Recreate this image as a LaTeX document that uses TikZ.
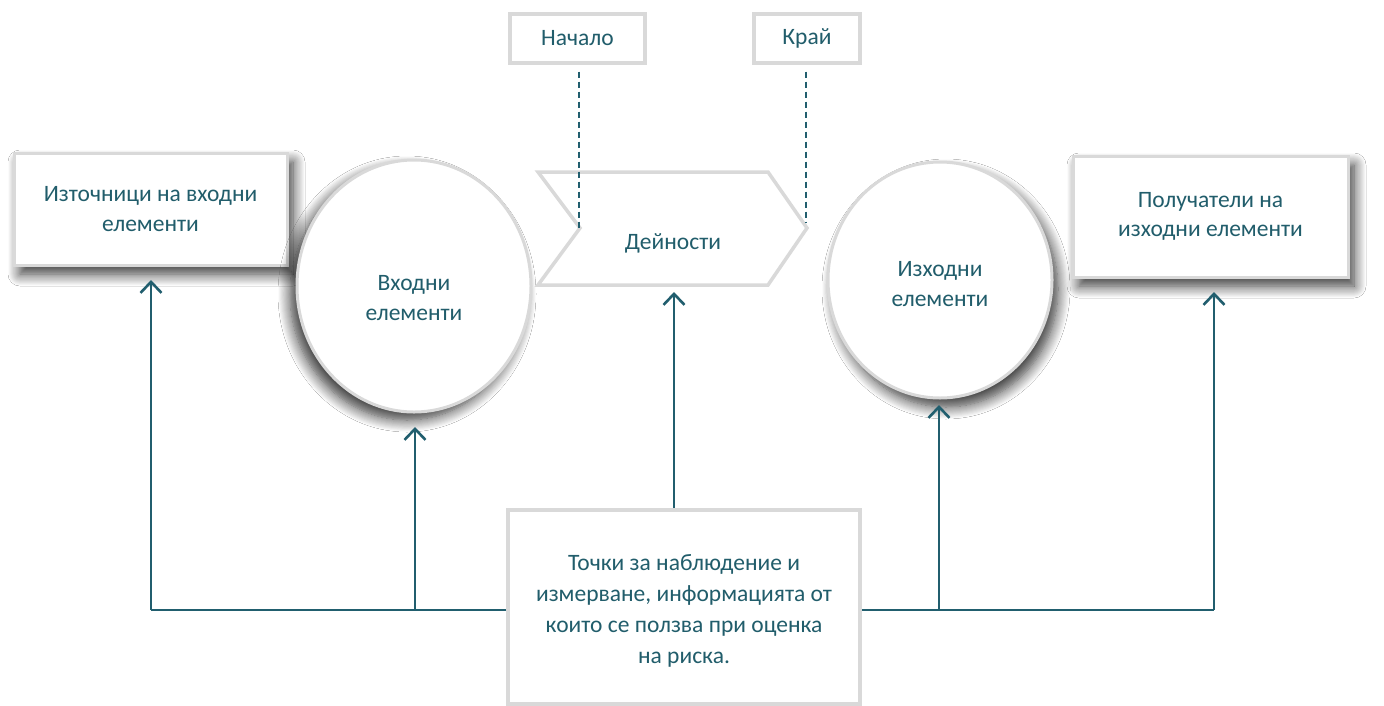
\documentclass[tikz,border=0pt]{standalone}
\usepackage{fontspec}
\setmainfont{Carlito}
\usetikzlibrary{shadows.blur,arrows.meta,calc,shapes.geometric}
\definecolor{txt}{HTML}{215D6B}
\definecolor{ln}{HTML}{215E6E}
\definecolor{bord}{HTML}{D9D9D9}
\begin{document}
\begin{tikzpicture}[x=1pt,y=-1pt,
  font=\fontsize{23.5}{29.5}\selectfont,
  every node/.style={text=txt, align=center},
  box/.style={draw=bord, line width=3pt, fill=white, rectangle, inner sep=0pt},
  shadowbox/.style={blur shadow={shadow xshift=6pt, shadow yshift=-9pt, shadow blur radius=12pt, shadow blur steps=12, shadow opacity=80}},
  ell/.style={draw=bord, line width=3pt, fill=white, ellipse, inner sep=0pt},
  conn/.style={draw=ln, line width=2.6pt},
  arr/.style={conn, -{Straight Barb[length=11pt,width=21pt,line width=2.6pt]}},
  dashln/.style={draw=ln, line width=1.6pt, dash pattern=on 6pt off 4pt}
]
\useasboundingbox (0,0) rectangle (1384,705);
\fill[white] (0,0) rectangle (1384,705);

% left source box
\node[box, shadowbox, minimum width=273pt, minimum height=112pt] (src) at (150.5,209) {Източници на входни\\елементи};
% input ellipse
\node[ell, blur shadow={shadow xshift=-7pt, shadow yshift=-8pt, shadow blur radius=12pt, shadow blur steps=12, shadow opacity=80}, minimum width=234pt, minimum height=252pt] (inp) at (414,286) {};
\node at (414,298) {Входни\\елементи};
% activity chevron
\draw[draw=bord, line width=3.5pt, fill=white, line join=miter]
  (538,172) -- (768,172) -- (807,228) -- (768,285) -- (538,285) -- (580,228) -- cycle;
\node (act) at (673,243) {Дейности};
\coordinate (actb) at (674,285);
% start / end boxes
\node[box, line width=4pt, minimum width=135pt, minimum height=49pt] (start) at (577.5,38) {Начало};
\node[box, line width=4pt, minimum width=106pt, minimum height=49pt] (end) at (807,38) {Край};
\coordinate (startp) at (579,228);
\coordinate (endp) at (806,222);
\draw[dashln] ([yshift=-7pt]start.south -| startp) -- (startp);
\draw[dashln] ([yshift=-7pt]end.south -| endp) -- (endp);
% output ellipse
\node[ell, shadowbox, minimum width=224pt, minimum height=236pt] (out) at (940,280) {};
\node at (940,284) {Изходни\\елементи};
% receivers box
\node[box, shadowbox, minimum width=275pt, minimum height=121pt] (rcv) at (1210.5,216.5) {Получатели на\\изходни елементи};
% observation box
\node[box, line width=4pt, minimum width=352pt, minimum height=194pt] (obs) at (684,607) {};
\node[font=\fontsize{23.5}{31}\selectfont] at (684,611) {Точки за наблюдение и\\измерване, информацията от\\които се ползва при оценка\\на риска.};

% connectors
\coordinate (jL) at (151,610);
\coordinate (jR) at (1214,610);
\coordinate (jIn) at (415,610);
\coordinate (jOut) at (939,610);
\draw[conn] (obs.west |- jL) -- (jL);
\draw[conn] (obs.east |- jR) -- (jR);
\draw[arr] (jL) -- (151,280);
\draw[arr] (jIn) -- (415,427);
\draw[arr] (obs.north -| actb) -- ([yshift=-7pt]actb);
\draw[arr] (jOut) -- (939,405);
\draw[arr] (jR) -- (1214,292);
\end{tikzpicture}
\end{document}
